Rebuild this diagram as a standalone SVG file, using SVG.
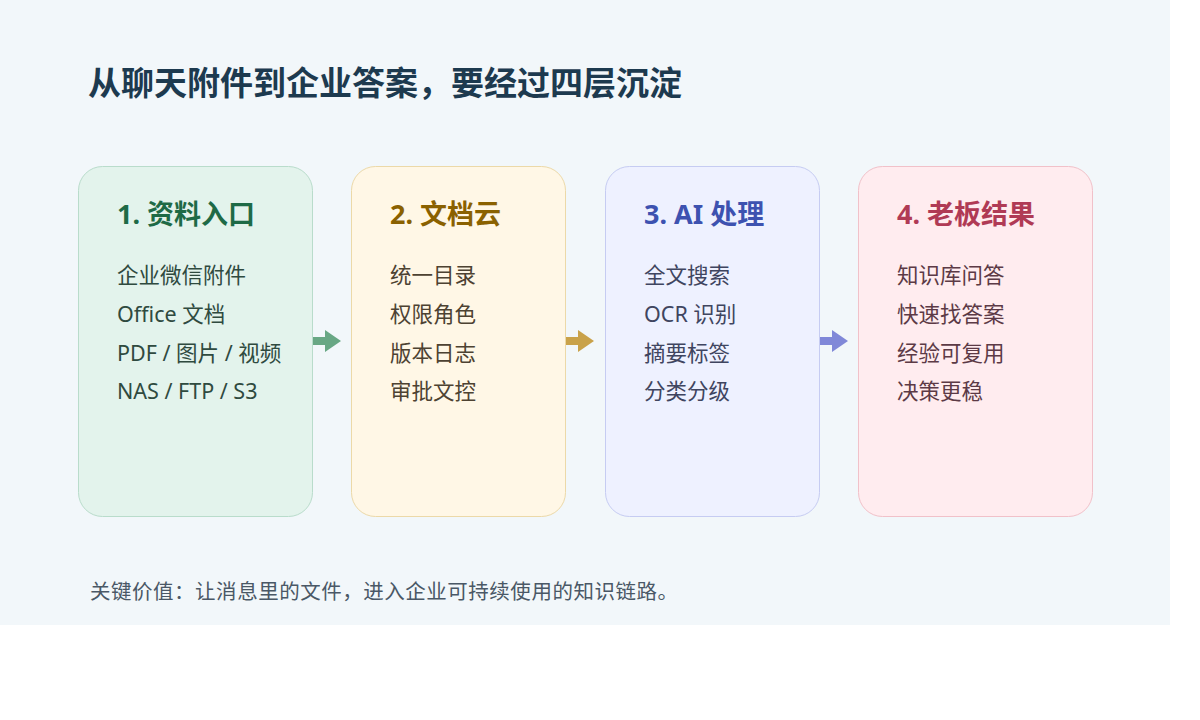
<svg xmlns="http://www.w3.org/2000/svg" width="1200" height="720" viewBox="0 0 1200 720">
<style>
text{font-family:"Noto Sans","Noto Sans CJK SC",sans-serif}
.title{font-size:33px;font-weight:700;fill:#1d3a4f}
.ct{font-size:27px;font-weight:700}
.it{font-size:21.5px}
.foot{font-size:20.5px;fill:#4a5866}
</style>
<rect x="0" y="0" width="1200" height="720" fill="#ffffff"/>
<rect x="0" y="0" width="1170" height="625" fill="#f2f7fa"/>
<text class="title" x="88" y="95">从聊天附件到企业答案，要经过四层沉淀</text>
<g id="connectors">
<path d="M312 337H325V330L341 341L325 352V345H312Z" fill="#68a784"/>
<path d="M565 337H578V330L594 341L578 352V345H565Z" fill="#c9a24a"/>
<path d="M819 337H832V330L848 341L832 352V345H819Z" fill="#8088d8"/>
</g>
<g id="card1">
<rect x="78.5" y="166.5" width="234" height="350" rx="24" fill="#e3f3ec" stroke="#b9dccb"/>
<text class="ct" x="117" y="224" fill="#1e6a46">1. 资料入口</text>
<g class="it" fill="#2f4a3f">
<text x="117" y="283">企业微信附件</text>
<text x="117" y="322">Office 文档</text>
<text x="117" y="361">PDF / 图片 / 视频</text>
<text x="117" y="399">NAS / FTP / S3</text>
</g>
</g>
<g id="card2">
<rect x="351.5" y="166.5" width="214" height="350" rx="24" fill="#fff7e6" stroke="#ecd9a8"/>
<text class="ct" x="390" y="224" fill="#8a6100">2. 文档云</text>
<g class="it" fill="#4d4232">
<text x="390" y="283">统一目录</text>
<text x="390" y="322">权限角色</text>
<text x="390" y="361">版本日志</text>
<text x="390" y="399">审批文控</text>
</g>
</g>
<g id="card3">
<rect x="605.5" y="166.5" width="214" height="350" rx="24" fill="#eef1ff" stroke="#c6ccf2"/>
<text class="ct" x="644" y="224" fill="#3d52b0">3. AI 处理</text>
<g class="it" fill="#3f4560">
<text x="644" y="283">全文搜索</text>
<text x="644" y="322">OCR 识别</text>
<text x="644" y="361">摘要标签</text>
<text x="644" y="399">分类分级</text>
</g>
</g>
<g id="card4">
<rect x="858.5" y="166.5" width="234" height="350" rx="24" fill="#ffecef" stroke="#f1c1c9"/>
<text class="ct" x="897" y="224" fill="#b03a55">4. 老板结果</text>
<g class="it" fill="#5c3a46">
<text x="897" y="283">知识库问答</text>
<text x="897" y="322">快速找答案</text>
<text x="897" y="361">经验可复用</text>
<text x="897" y="399">决策更稳</text>
</g>
</g>
<text class="foot" x="90" y="599" textLength="588" lengthAdjust="spacing">关键价值：让消息里的文件，进入企业可持续使用的知识链路。</text>
</svg>
